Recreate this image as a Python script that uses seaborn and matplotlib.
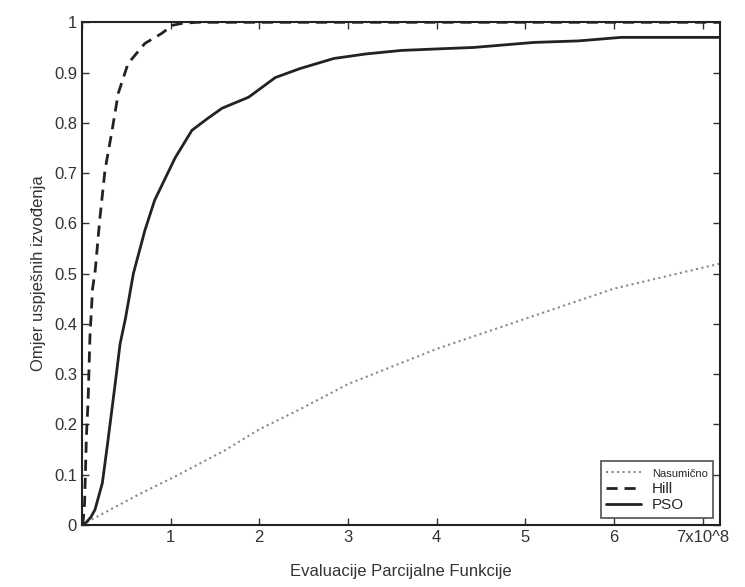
import pandas as pd
import matplotlib
matplotlib.use("Agg")
import matplotlib.pyplot as plt
import seaborn as sns

# evaluacije (x10^8) i omjer uspjesnih izvodenja
pso_x = [0, 0.05, 0.1, 0.147, 0.23, 0.29, 0.37, 0.43, 0.49, 0.58, 0.71, 0.82, 1.05,
         1.24, 1.42, 1.58, 1.88, 2.18, 2.46, 2.84, 3.2, 3.6, 4.0, 4.42, 5.1, 5.6,
         6.08, 6.6, 7.2]
pso_y = [0, 0.005, 0.015, 0.03, 0.083, 0.163, 0.274, 0.36, 0.41, 0.5, 0.586, 0.646,
         0.73, 0.785, 0.809, 0.829, 0.851, 0.89, 0.908, 0.928, 0.937, 0.944, 0.947,
         0.95, 0.96, 0.963, 0.97, 0.97, 0.97]

hill_x = [0, 0.015, 0.03, 0.05, 0.07, 0.09, 0.12, 0.15, 0.2, 0.26, 0.34, 0.41, 0.52,
          0.71, 0.9, 1.02, 1.13, 1.3, 7.2]
hill_y = [0, 0.01, 0.044, 0.175, 0.25, 0.374, 0.47, 0.507, 0.606, 0.706, 0.785, 0.859,
          0.918, 0.958, 0.978, 0.994, 0.998, 1.0, 1.0]

rand_x = [0, 0.147, 0.68, 1.05, 1.62, 2.0, 2.46, 3.0, 3.5, 4.0, 4.5, 5.0, 5.5, 6.0,
          6.6, 7.2]
rand_y = [0, 0.014, 0.064, 0.096, 0.149, 0.19, 0.23, 0.28, 0.315, 0.35, 0.38, 0.41,
          0.44, 0.47, 0.495, 0.52]

x_ticks = [0, 1, 2, 3, 4, 5, 6, 7]
x_labels = ["", "1", "2", "3", "4", "5", "6", "7x10^8"]
y_ticks = [0, 0.1, 0.2, 0.3, 0.4, 0.5, 0.6, 0.7, 0.8, 0.9, 1]
y_labels = ["0", "0.1", "0.2", "0.3", "0.4", "0.5", "0.6", "0.7", "0.8", "0.9", "1"]

sns.set_style("ticks")
plt.rcParams['font.family'] = ['Liberation Sans', 'DejaVu Sans']

fig, ax = plt.subplots(figsize=(7.45, 5.87), dpi=100)
fig.subplots_adjust(left=0.11, right=0.967, top=0.962, bottom=0.106)

rand_df = pd.DataFrame({"x": rand_x, "y": rand_y})
hill_df = pd.DataFrame({"x": hill_x, "y": hill_y})
pso_df = pd.DataFrame({"x": pso_x, "y": pso_y})

sns.lineplot(data=rand_df, x="x", y="y", ax=ax, color="#888888", linestyle=":",
             linewidth=1.5, label="Nasumično")
sns.lineplot(data=hill_df, x="x", y="y", ax=ax, color="#222222", linestyle=(0, (4, 2.5)),
             linewidth=2, label="Hill")
sns.lineplot(data=pso_df, x="x", y="y", ax=ax, color="#222222", linestyle="-",
             linewidth=2, label="PSO")

ax.set_xlim(0, 7.2)
ax.set_ylim(0, 1)
ax.set_xticks(x_ticks)
ax.set_xticklabels(x_labels)
ax.set_yticks(y_ticks)
ax.set_yticklabels(y_labels)
ax.tick_params(direction="in", top=True, right=True, labelsize=12, colors="#333333",
               length=5, width=1)
for s in ax.spines.values():
    s.set_linewidth(1.5)
    s.set_color("#222222")

ax.set_xlabel("Evaluacije Parcijalne Funkcije", fontsize=12, color="#333333", labelpad=14)
ax.set_ylabel("Omjer uspješnih izvođenja", fontsize=12, color="#333333", labelpad=6)

leg = ax.legend(loc="lower right", frameon=True, fancybox=False, edgecolor="#222222",
                borderaxespad=0.5, handlelength=2.5, labelspacing=0.2, borderpad=0.4)
leg.get_frame().set_linewidth(1.2)
leg.get_texts()[0].set_fontsize(8)
leg.get_texts()[1].set_fontsize(11)
leg.get_texts()[2].set_fontsize(11)

plt.savefig("out.png", dpi=100)
